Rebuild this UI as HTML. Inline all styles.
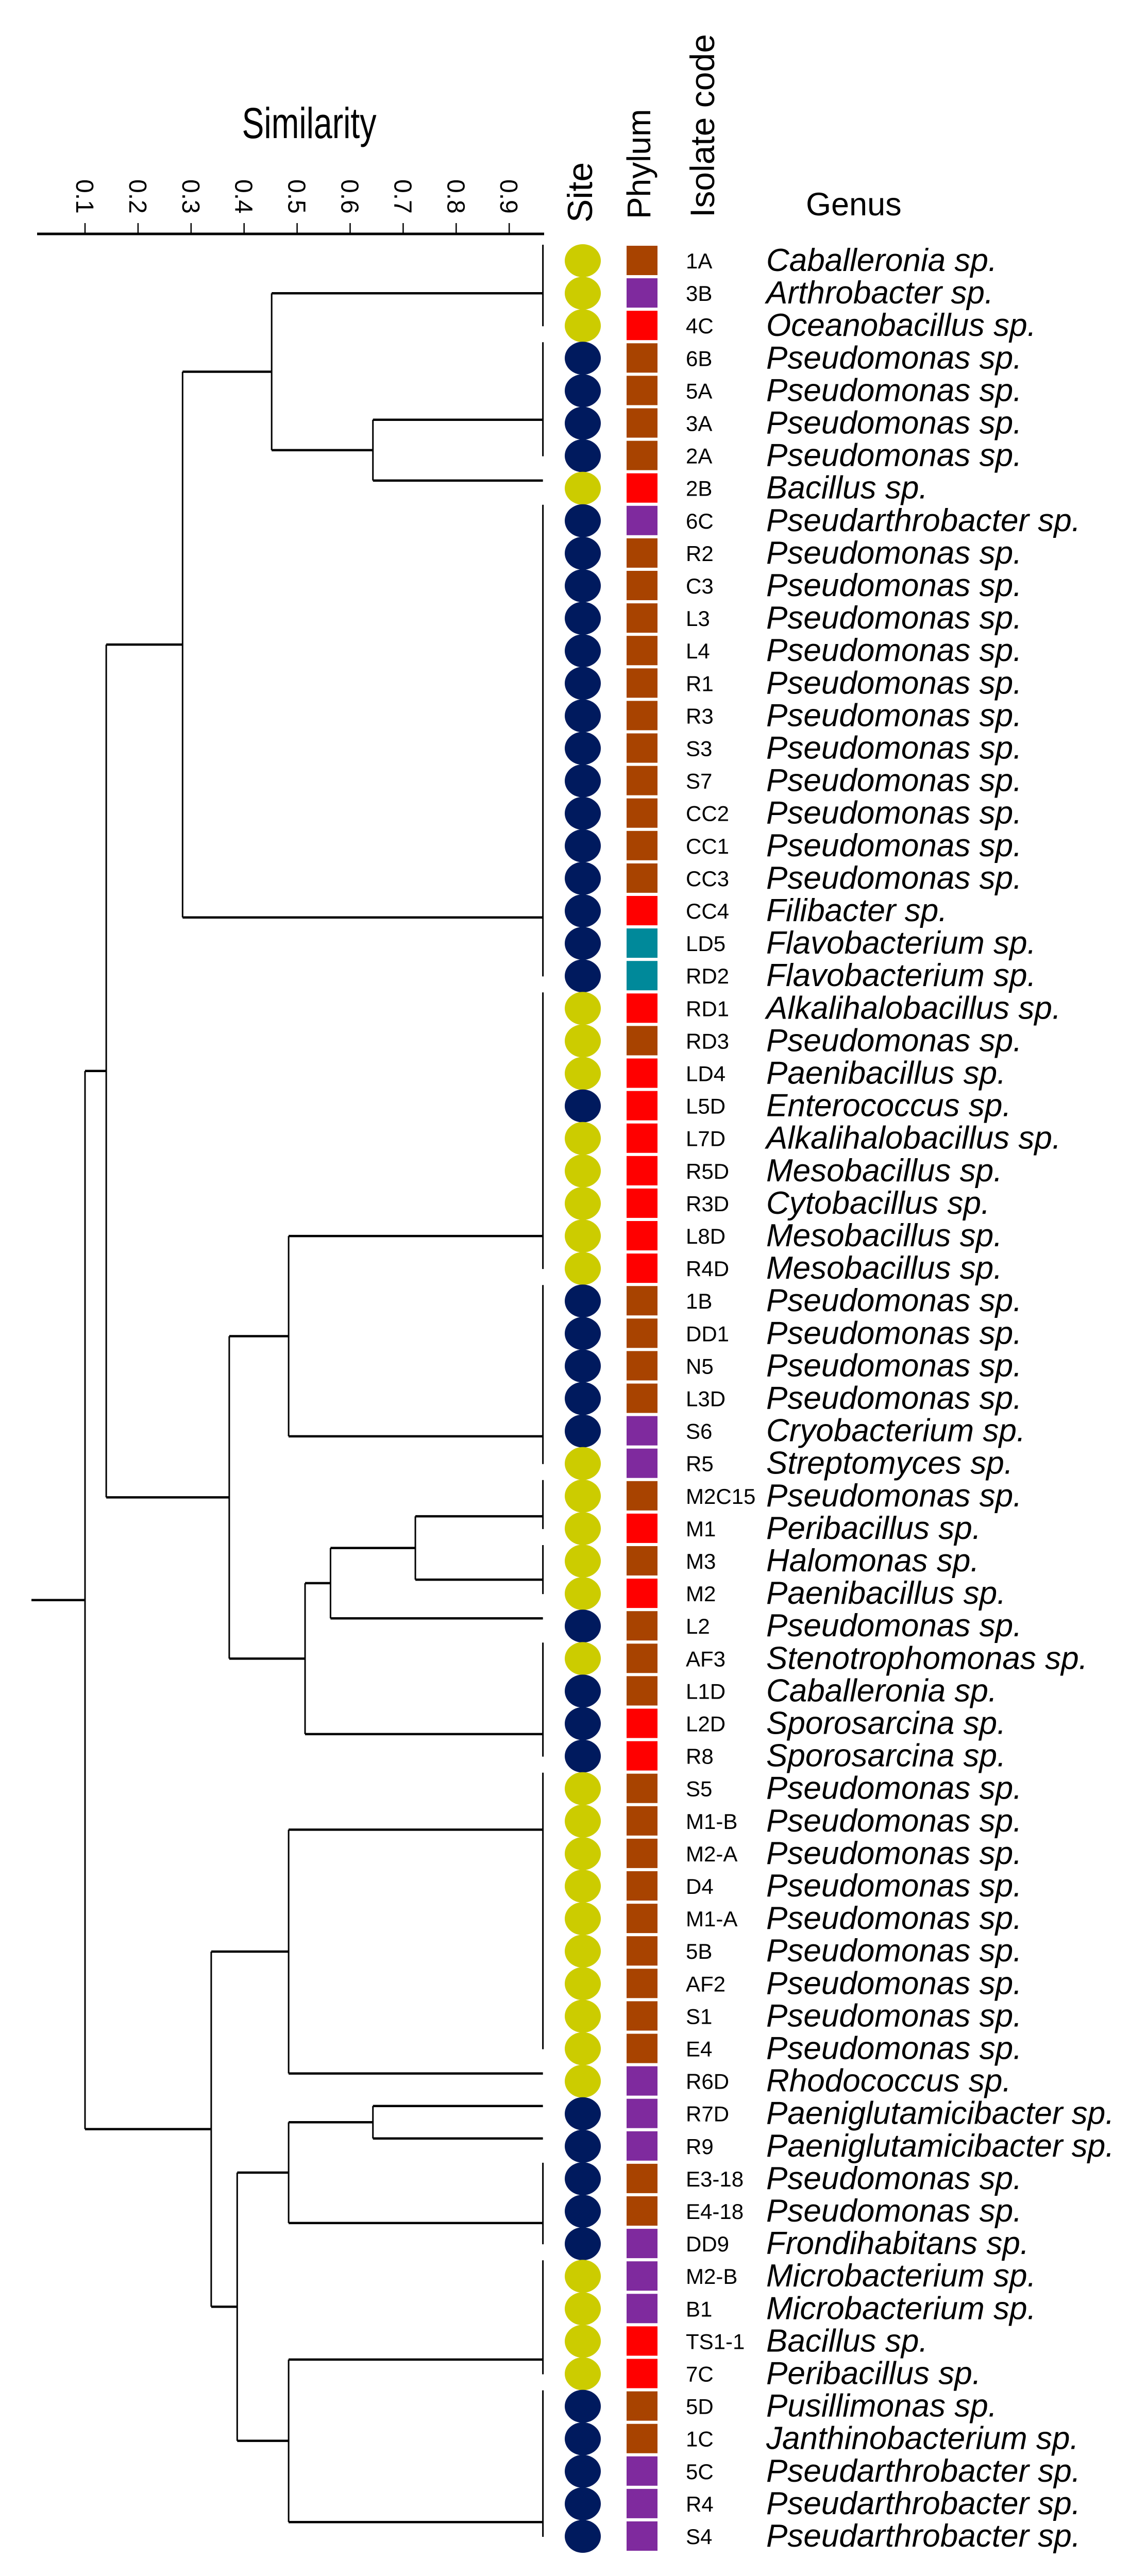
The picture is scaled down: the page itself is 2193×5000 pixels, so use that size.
<!DOCTYPE html>
<html><head><meta charset="utf-8"><style>
html,body{margin:0;padding:0;background:#fff;}
svg{display:block;}
</style></head><body>
<svg id="chart" width="2193" height="5000" viewBox="0 0 2193 5000" xmlns="http://www.w3.org/2000/svg">
<rect width="2193" height="5000" fill="#fff"/>
<text x="600" y="268" font-family="Liberation Sans, sans-serif" font-size="84" text-anchor="middle" textLength="261" lengthAdjust="spacingAndGlyphs">Similarity</text>
<text transform="translate(1149,432) rotate(-90)" font-family="Liberation Sans, sans-serif" font-size="68">Site</text>
<text transform="translate(1262,425) rotate(-90)" font-family="Liberation Sans, sans-serif" font-size="64">Phylum</text>
<text transform="translate(1386,422) rotate(-90)" font-family="Liberation Sans, sans-serif" font-size="66">Isolate code</text>
<text x="1564" y="418" font-family="Liberation Sans, sans-serif" font-size="63">Genus</text>
<g id="axis"></g>
<g id="tree"></g>
<g id="rows"></g>
</svg>
<script>
// ---- data ----
const tickValues = [0.1,0.2,0.3,0.4,0.5,0.6,0.7,0.8,0.9];
const tickLabels = ["0.1","0.2","0.3","0.4","0.5","0.6","0.7","0.8","0.9"];
const isolateCodes = ["1A","3B","4C","6B","5A","3A","2A","2B","6C","R2","C3","L3","L4","R1","R3","S3","S7","CC2","CC1","CC3","CC4","LD5","RD2","RD1","RD3","LD4","L5D","L7D","R5D","R3D","L8D","R4D","1B","DD1","N5","L3D","S6","R5","M2C15","M1","M3","M2","L2","AF3","L1D","L2D","R8","S5","M1-B","M2-A","D4","M1-A","5B","AF2","S1","E4","R6D","R7D","R9","E3-18","E4-18","DD9","M2-B","B1","TS1-1","7C","5D","1C","5C","R4","S4"];
const genera = ["Caballeronia sp.","Arthrobacter sp.","Oceanobacillus sp.","Pseudomonas sp.","Pseudomonas sp.","Pseudomonas sp.","Pseudomonas sp.","Bacillus sp.","Pseudarthrobacter sp.","Pseudomonas sp.","Pseudomonas sp.","Pseudomonas sp.","Pseudomonas sp.","Pseudomonas sp.","Pseudomonas sp.","Pseudomonas sp.","Pseudomonas sp.","Pseudomonas sp.","Pseudomonas sp.","Pseudomonas sp.","Filibacter sp.","Flavobacterium sp.","Flavobacterium sp.","Alkalihalobacillus sp.","Pseudomonas sp.","Paenibacillus sp.","Enterococcus sp.","Alkalihalobacillus sp.","Mesobacillus sp.","Cytobacillus sp.","Mesobacillus sp.","Mesobacillus sp.","Pseudomonas sp.","Pseudomonas sp.","Pseudomonas sp.","Pseudomonas sp.","Cryobacterium sp.","Streptomyces sp.","Pseudomonas sp.","Peribacillus sp.","Halomonas sp.","Paenibacillus sp.","Pseudomonas sp.","Stenotrophomonas sp.","Caballeronia sp.","Sporosarcina sp.","Sporosarcina sp.","Pseudomonas sp.","Pseudomonas sp.","Pseudomonas sp.","Pseudomonas sp.","Pseudomonas sp.","Pseudomonas sp.","Pseudomonas sp.","Pseudomonas sp.","Pseudomonas sp.","Rhodococcus sp.","Paeniglutamicibacter sp.","Paeniglutamicibacter sp.","Pseudomonas sp.","Pseudomonas sp.","Frondihabitans sp.","Microbacterium sp.","Microbacterium sp.","Bacillus sp.","Peribacillus sp.","Pusillimonas sp.","Janthinobacterium sp.","Pseudarthrobacter sp.","Pseudarthrobacter sp.","Pseudarthrobacter sp."];
const sites = "YYYNNNNYNNNNNNNNNNNNNNNYYYNYYYYYNNNNNYYYYYNYNNNYYYYYYYYYYNNNNNYYYYNNNNN".split("");
const phyla = "BPRBBBBRPBBBBBBBBBBBRTTRBRRRRRRRBBBBPPBRBRBBBRRBBBBBBBBBPPPBBPPPRRBBPPP".split("");
// leaf groups joined at the leaf line: first row, last row, attach row
const groupStart = [0,3,7,8,23,32,38,40,42,43,47,56,57,58,59,62,66];
const groupEnd   = [2,6,7,22,31,37,39,41,42,46,55,56,57,58,61,65,70];
const groupAnchor= [1.24,5.13,7,20.44,30.24,36.4,38.86,40.81,42,45.56,48.5,56,57,58,60.6,64.8,69.8];
// internal nodes: similarity, children ("g#" = leaf group, "n#" = node)
const nodeSim   = [0.10,0.14,0.284,0.452,0.643,0.372,0.484,0.515,0.563,0.723,0.338,0.484,0.387,0.484,0.643,0.484];
const nodeLeft  = ["n1","n2","n3","g0","g1","n6","g4","n8","n9","g6","n11","g10","n13","n14","g12","g15"];
const nodeRight = ["n10","n5","g3","n4","g2","n7","g5","g9","g8","g7","n12","g11","n15","g13","g13b","g16"];
const leafSim = 0.9636;
</script>
<script>
// fix-up: node 14 joins single leaves R7D (group 12) and R9 (group 13); node 13 joins node14 and group 14
nodeRight[14] = "g13"; nodeLeft[13] = "n14"; nodeRight[13] = "g14";
const NS = "http://www.w3.org/2000/svg";
function xs(s){ return 165 + (s-0.1)*1029; }
function ty(r){ return 491 + r*63.1; }
function ry(r){ return 506 + r*63.1; }
function mk(tag, attrs, parent){ const e=document.createElementNS(NS,tag); for(const k in attrs) e.setAttribute(k,attrs[k]); parent.appendChild(e); return e; }
const axis=document.getElementById('axis'), tree=document.getElementById('tree'), rows=document.getElementById('rows');
// axis
let al = mk('line',{x1:72,y1:454,x2:1056,y2:454,stroke:'#000','stroke-width':5},axis);


tickValues.forEach((v,i)=>{
  const x=xs(v);
  const t=mk('line',{x1:x,y1:433,x2:x,y2:454,stroke:'#000','stroke-width':2.5},axis);
  
  
  const l=mk('text',{transform:`translate(${x-17},348) rotate(90)`,'font-family':'Liberation Sans, sans-serif','font-size':48},axis);
  l.textContent=tickLabels[i];
  
  
});
// tree
function hline(x1,x2,y){ const e=mk('line',{x1:x1,y1:y,x2:x2,y2:y,stroke:'#000','stroke-width':4.5},tree);
  
   }
function vline(x,y1,y2,w){ const e=mk('line',{x1:x,y1:y1,x2:x,y2:y2,stroke:'#000','stroke-width':w||3},tree);
  
   }
groupStart.forEach((s,i)=>{ if(groupEnd[i]>s) vline(xs(leafSim),ty(s)-16,ty(groupEnd[i])+16,3); });
function pos(ref){
  if(ref[0]==='g'){ const i=+ref.slice(1); return {x:xs(leafSim), y:ty(groupAnchor[i])}; }
  const i=+ref.slice(1); const a=pos(nodeLeft[i]), b=pos(nodeRight[i]); const x=xs(nodeSim[i]);
  return {x:x, y:(a.y+b.y)/2};
}
nodeSim.forEach((s,i)=>{
  const a=pos(nodeLeft[i]), b=pos(nodeRight[i]), x=xs(s);
  hline(x,a.x,a.y); hline(x,b.x,b.y); vline(x,a.y,b.y,3);
});
const rootPos=pos('n0'); hline(61,rootPos.x,rootPos.y);
// rows
const siteColor={Y:'#cccc00',N:'#001a5e'};
const phylumColor={B:'#a84300',P:'#7f2a9e',R:'#ff0000',T:'#00899a'};
isolateCodes.forEach((c,i)=>{
  const y=ry(i);
  const el=mk('ellipse',{cx:1131,cy:y,rx:35,ry:32,fill:siteColor[sites[i]]},rows);
  
  
  const r=mk('rect',{x:1216,y:y-29,width:60,height:57,fill:phylumColor[phyla[i]]},rows);
  
  
  const t=mk('text',{x:1331,y:y+15,'font-family':'Liberation Sans, sans-serif','font-size':42},rows);
  t.textContent=c;
  
  
  const g=mk('text',{x:1487,y:y+20,'font-family':'Liberation Sans, sans-serif','font-size':62,'font-style':'italic'},rows);
  g.textContent=genera[i];
  
  
});
</script>
</body></html>
